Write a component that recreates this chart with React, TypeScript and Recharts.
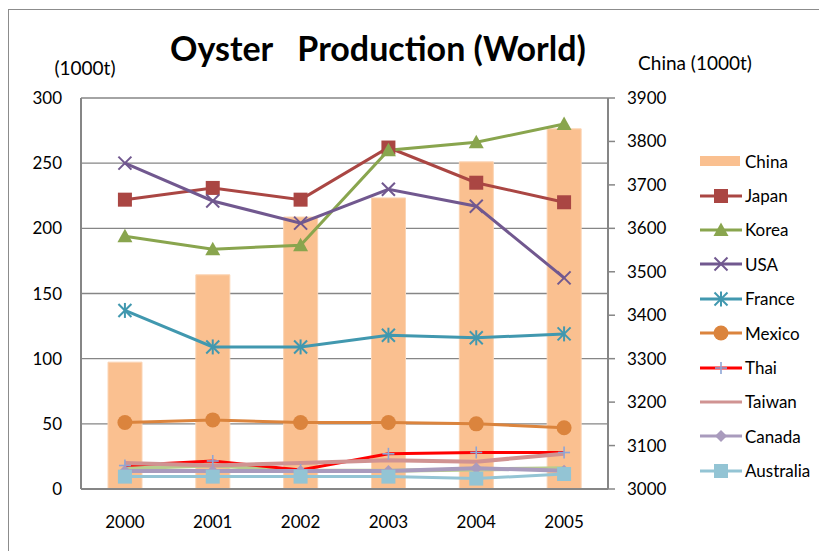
import React from 'react';
import { ComposedChart, Bar, Line, XAxis, YAxis, CartesianGrid, Legend } from 'recharts';

const years = ['2000', '2001', '2002', '2003', '2004', '2005'];
const china = [3292, 3493, 3626, 3670, 3753, 3829];
const japan = [222, 231, 222, 262, 235, 220];
const korea = [194, 184, 187, 260, 266, 280];
const usa = [250, 221, 204, 230, 217, 162];
const france = [137, 109, 109, 118, 116, 119];
const mexico = [51, 53, 51, 51, 50, 47];
const other = [16, 18, 14, 14, 15, 16];
const thai = [18, 21.5, 14.6, 27, 28, 28];
const taiwan = [20, 18, 20, 22, 21, 27];
const canada = [13.8, 13.8, 13.8, 13.8, 16, 14];
const australia = [9.5, 9.5, 9.5, 9.5, 8, 11.5];
const leftTicks = [0, 50, 100, 150, 200, 250, 300];
const rightTicks = [3000, 3100, 3200, 3300, 3400, 3500, 3600, 3700, 3800, 3900];

const data = years.map((y, i) => ({
  year: y,
  China: china[i],
  Japan: japan[i],
  Korea: korea[i],
  USA: usa[i],
  France: france[i],
  Mexico: mexico[i],
  Other: other[i],
  Thai: thai[i],
  Taiwan: taiwan[i],
  Canada: canada[i],
  Australia: australia[i],
}));

type Shape = 'square' | 'triangle' | 'x' | 'asterisk' | 'circle' | 'plus' | 'diamond' | 'none';

function marker(shape: Shape, color: string, s: number, cx: number, cy: number, key?: any) {
  const h = s / 2;
  switch (shape) {
    case 'square':
      return <rect key={key} x={cx - h} y={cy - h} width={s} height={s} fill={color} />;
    case 'triangle':
      return <polygon key={key} points={`${cx},${cy - h} ${cx + h},${cy + h * 0.8} ${cx - h},${cy + h * 0.8}`} fill={color} />;
    case 'x':
      return (
        <g key={key} stroke={color} strokeWidth={2}>
          <line x1={cx - h} y1={cy - h} x2={cx + h} y2={cy + h} />
          <line x1={cx - h} y1={cy + h} x2={cx + h} y2={cy - h} />
        </g>
      );
    case 'asterisk':
      return (
        <g key={key} stroke={color} strokeWidth={2}>
          <line x1={cx - h} y1={cy - h} x2={cx + h} y2={cy + h} />
          <line x1={cx - h} y1={cy + h} x2={cx + h} y2={cy - h} />
          <line x1={cx} y1={cy - h - 1} x2={cx} y2={cy + h + 1} />
        </g>
      );
    case 'circle':
      return <circle key={key} cx={cx} cy={cy} r={h} fill={color} />;
    case 'plus':
      return (
        <g key={key} stroke={color} strokeWidth={1.6}>
          <line x1={cx - h} y1={cy} x2={cx + h} y2={cy} />
          <line x1={cx} y1={cy - h} x2={cx} y2={cy + h} />
        </g>
      );
    case 'diamond':
      return <polygon key={key} points={`${cx},${cy - h} ${cx + h},${cy} ${cx},${cy + h} ${cx - h},${cy}`} fill={color} />;
    default:
      return <g key={key} />;
  }
}

const dotFn = (shape: Shape, color: string, s: number) => (props: any) => {
  const { cx, cy, index } = props;
  if (cx == null || cy == null) return <g key={`d${index}`} />;
  return marker(shape, color, s, cx, cy, `d${index}`);
};

interface SeriesDef { key: string; color: string; shape: Shape; size: number; markerColor?: string; width: number }
const series: SeriesDef[] = [
  { key: 'Japan', color: '#AA4643', shape: 'square', size: 14, width: 3 },
  { key: 'Korea', color: '#89A54E', shape: 'triangle', size: 15, width: 3 },
  { key: 'USA', color: '#71588F', shape: 'x', size: 13, width: 3 },
  { key: 'France', color: '#4198AF', shape: 'asterisk', size: 13, width: 3 },
  { key: 'Mexico', color: '#DB843D', shape: 'circle', size: 15, width: 3 },
  { key: 'Thai', color: '#FF0000', shape: 'plus', size: 12, markerColor: '#8EA5D6', width: 3 },
  { key: 'Taiwan', color: '#D09392', shape: 'none', size: 0, width: 4 },
  { key: 'Canada', color: '#A99BBD', shape: 'diamond', size: 12, width: 4 },
  { key: 'Australia', color: '#93C4D4', shape: 'square', size: 14, width: 3 },
];

const fontFam = 'Lato, "Open Sans", sans-serif';

const LegendContent = () => {
  const rows: any[] = [{ key: 'China', bar: true }, ...series];
  return (
    <div style={{ fontFamily: fontFam, fontSize: 17, color: '#000' }}>
      {rows.map((r: any) => (
        <div key={r.key} style={{ display: 'flex', alignItems: 'center', height: 34.4, whiteSpace: 'nowrap' }}>
          <svg width={46} height={16} style={{ display: 'block', flex: 'none' }}>
            {r.bar ? (
              <rect x={0} y={3} width={40} height={10} fill="#FAC090" />
            ) : (
              <g>
                <line x1={0} y1={8} x2={42} y2={8} stroke={r.color} strokeWidth={3} />
                {marker(r.shape, r.markerColor || r.color, r.size, 21, 8)}
              </g>
            )}
          </svg>
          <span style={{ marginLeft: -1 }}>{r.key}</span>
        </div>
      ))}
    </div>
  );
};

export default function App() {
  return (
    <div style={{ position: 'absolute', left: 0, top: 0, width: 819, height: 551, overflow: 'hidden', background: '#fff' }}>
      <div style={{ position: 'absolute', left: 8, top: 9, width: 830, height: 560, border: '1.5px solid #8c8c8c', boxSizing: 'border-box' }} />
      <div style={{ position: 'absolute', left: 0, top: 0 }}>
        <ComposedChart
          width={819}
          height={551}
          data={data}
          margin={{ top: 98, right: 131, left: 31, bottom: 22 }}
          barCategoryGap="0%"
        >
          <CartesianGrid horizontal vertical={false} stroke="#868686" strokeWidth={1.3} yAxisId="left" />
          <XAxis
            dataKey="year"
            height={40}
            tickLine={false}
            tickSize={0}
            tickMargin={27}
            axisLine={{ stroke: '#868686', strokeWidth: 2 }}
            tick={{ fill: '#000', fontSize: 17, fontFamily: fontFam }}
          />
          <YAxis
            yAxisId="left"
            orientation="left"
            width={50}
            domain={[0, 300]}
            ticks={leftTicks}
            interval={0}
            tickLine={false}
            tickSize={0}
            tickMargin={19}
            axisLine={{ stroke: '#868686', strokeWidth: 2 }}
            tick={{ fill: '#000', fontSize: 17, fontFamily: fontFam }}
          />
          <YAxis
            yAxisId="right"
            orientation="right"
            width={80}
            domain={[3000, 3900]}
            ticks={rightTicks}
            interval={0}
            tickSize={7}
            tickMargin={12}
            tickLine={{ stroke: '#868686', strokeWidth: 1.5 }}
            axisLine={{ stroke: '#868686', strokeWidth: 2 }}
            tick={{ fill: '#000', fontSize: 17, fontFamily: fontFam, textAnchor: 'start' }}
          />
          <Bar yAxisId="right" dataKey="China" barSize={34} fill="#FAC090" stroke="#FBD4B4" strokeWidth={1} isAnimationActive={false} />
          {series.slice(0, 5).map((s) => (
            <Line
              key={s.key}
              yAxisId="left"
              type="linear"
              dataKey={s.key}
              stroke={s.color}
              strokeWidth={s.width}
              dot={dotFn(s.shape, s.markerColor || s.color, s.size)}
              activeDot={false}
              isAnimationActive={false}
            />
          ))}
          <Line yAxisId="left" type="linear" dataKey="Other" stroke="#B8CC8E" strokeWidth={4} dot={false} activeDot={false} legendType="none" isAnimationActive={false} />
          {series.slice(5).map((s) => (
            <Line
              key={s.key}
              yAxisId="left"
              type="linear"
              dataKey={s.key}
              stroke={s.color}
              strokeWidth={s.width}
              dot={dotFn(s.shape, s.markerColor || s.color, s.size)}
              activeDot={false}
              isAnimationActive={false}
            />
          ))}
          <Legend
            layout="vertical"
            align="center"
            verticalAlign="middle"
            content={<LegendContent />}
            wrapperStyle={{ position: 'absolute', left: 700, top: 144, width: 119, height: 345 }}
          />
          <text x={378} y={61} textAnchor="middle" style={{ whiteSpace: 'pre', fontFamily: fontFam, fontWeight: 700, fontSize: 34, fill: '#000' }}>
            {'Oyster   Production (World)'}
          </text>
          <text x={85} y={75} textAnchor="middle" style={{ fontFamily: fontFam, fontSize: 19, fill: '#000' }}>
            (1000t)
          </text>
          <text x={695} y={70} textAnchor="middle" style={{ fontFamily: fontFam, fontSize: 19, fill: '#000' }}>
            China (1000t)
          </text>
        </ComposedChart>
      </div>
    </div>
  );
}
